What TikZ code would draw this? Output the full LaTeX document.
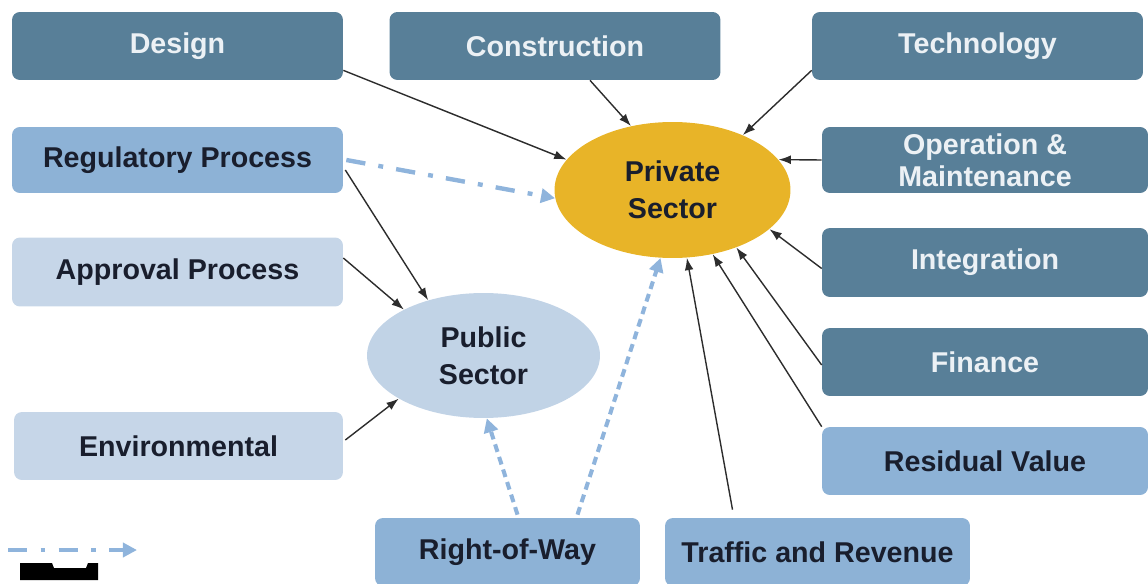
\documentclass[tikz,border=0pt]{standalone}
\usepackage{fontspec}
\setmainfont{Liberation Sans}
\usepackage{tikz}
\usetikzlibrary{arrows.meta,shapes.geometric}

\definecolor{boxdark}{RGB}{88,127,152}
\definecolor{boxmid}{RGB}{141,178,214}
\definecolor{boxlight}{RGB}{198,214,232}
\definecolor{pubfill}{RGB}{193,211,230}
\definecolor{privfill}{RGB}{232,180,40}
\definecolor{planblue}{RGB}{143,180,220}
\definecolor{textdark}{RGB}{25,30,45}
\definecolor{textlight}{RGB}{236,241,245}
\definecolor{linkgray}{RGB}{45,45,45}

\begin{document}
\begin{tikzpicture}[x=0.02cm, y=-0.02cm,
    every node/.style={font=\bfseries\fontsize{16.3}{18.2}\selectfont, align=center},
    box/.style={rectangle, rounded corners=4.5pt, inner sep=0pt,
      minimum width=6.62cm, minimum height=1.36cm},
    dark/.style={box, fill=boxdark, text=textlight},
    mid/.style={box, fill=boxmid, text=textdark},
    light/.style={box, fill=boxlight, text=textdark},
    sector/.style={ellipse, inner sep=0pt, text=textdark,
      font=\bfseries\fontsize{16.3}{21}\selectfont},
    feed/.style={-{Latex[length=7pt,width=5pt]}, linkgray, line width=0.8pt},
    plan/.style={-{Triangle[length=8pt,width=8pt]}, planblue, line width=2.5pt,
      dash pattern=on 11pt off 7.5pt on 2.8pt off 7.5pt},
    land/.style={-{Triangle[length=8pt,width=8pt]}, planblue, line width=2.3pt,
      dash pattern=on 4.5pt off 3pt}
  ]
    \useasboundingbox (0,0) rectangle (1148,584);

    % top row
    \node[dark] (design) at (177.5,46) {Design};
    \node[dark] (construction) at (555,46) {Construction};
    \node[dark] (technology) at (977.5,46) {Technology};

    % right column
    \node[dark, minimum width=6.52cm, minimum height=1.32cm] (om) at (985,160)
      {Operation \&\\Maintenance};
    \node[dark, minimum width=6.52cm, minimum height=1.38cm] (integration) at (985,262.5)
      {Integration};
    \node[dark, minimum width=6.52cm] (finance) at (985,362) {Finance};
    \node[mid, minimum width=6.52cm] (residual) at (985,461) {Residual Value};

    % left column
    \node[mid, minimum height=1.32cm] (regulatory) at (177.5,160) {Regulatory Process};
    \node[light, minimum height=1.38cm] (approval) at (177.5,272) {Approval Process};
    \node[light, minimum width=6.58cm] (environmental) at (178.5,446) {Environmental};

    % bottom row
    \node[mid, minimum width=5.3cm] (row) at (507.5,552) {Right-of-Way};
    \node[mid, minimum width=6.1cm] (traffic) at (817.5,552) {Traffic and Revenue};

    % the two sectors
    \node[sector, fill=privfill, minimum width=4.72cm, minimum height=2.72cm] (priv)
      at (672.5,190) {Private\\Sector};
    \node[sector, fill=pubfill, minimum width=4.66cm, minimum height=2.5cm] (pub)
      at (483.5,355.5) {Public\\Sector};

    % inputs to the private sector
    \draw[feed] ([shift={(0,-10)}]design.south east) -- (priv.164);
    \draw[feed] ([shift={(35,0)}]construction.south) -- (priv.123.5);
    \draw[feed] ([shift={(0,-10)}]technology.south west) -- (priv.38.7);
    \draw[feed] (om.west) -- (priv.16.6);
    \draw[feed] ([shift={(0,6)}]integration.west) -- (priv.-22.4);
    \draw[feed] ([shift={(0,3)}]finance.west) -- (priv.-42.7);
    \draw[feed] (residual.north west) -- (priv.-58);
    \draw[feed] ([shift={(-85,-8)}]traffic.north) -- (priv.-78.7);

    % inputs to the public sector
    \draw[feed] ([shift={(2,10)}]regulatory.east) -- (pub.135);
    \draw[feed] ([shift={(0,-14)}]approval.east) -- (pub.150);
    \draw[feed] ([shift={(2,-6)}]environmental.east) -- (pub.-153.7);

    % blue links
    \draw[plan] ([shift={(3,0)}]regulatory.east) -- (priv.-176.6);
    \draw[land] ([shift={(10,-3)}]row.north) -- (pub.-87);
    \draw[land] ([shift={(70,-3)}]row.north) -- (priv.-100);

    % legend
    \coordinate (legA) at (8,550);
    \coordinate (legB) at (137,550);
    \draw[plan] (legA) -- (legB);
    \fill[black] (20,563) -- (52,563) -- (54,568) -- (86,568) -- (88,563) -- (98,563)
      -- (98,580) -- (20,580) -- cycle;
\end{tikzpicture}
\end{document}
